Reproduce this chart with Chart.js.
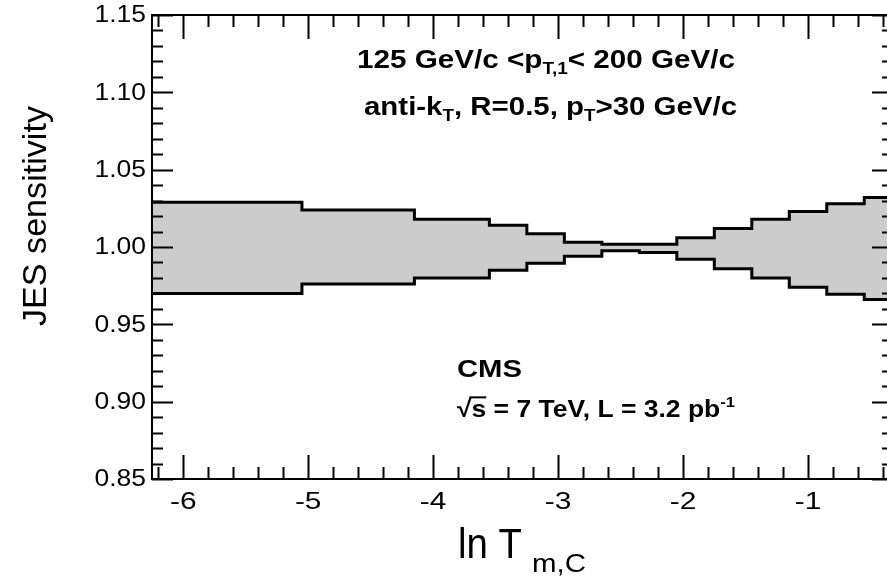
<!DOCTYPE html>
<html lang="en">
<head>
<meta charset="UTF-8">
<title>JES sensitivity vs ln T_m,C</title>
<style>
  html, body { margin: 0; padding: 0; background: #fff; overflow: hidden; }
  #wrap { width: 887px; height: 587px; overflow: hidden; }
  canvas { display: block; }
</style>
</head>
<body>
<div id="wrap"><canvas id="jesChart" width="900" height="587"></canvas></div>

<script src="https://cdn.jsdelivr.net/npm/chart.js@4"></script>
<script>
// bin edges in ln T_m,C (last bin runs past the right edge of the picture)
var binEdges = [-6.25, -5.05, -4.15, -3.55, -3.25, -2.95, -2.65, -2.35, -2.05, -1.75, -1.45, -1.15, -0.85, -0.55, -0.25];
// upper / lower edge of the JES band, one value per bin
var upperBand = [1.029, 1.024, 1.018, 1.014, 1.0085, 1.003, 1.0017, 1.0017, 1.006, 1.012, 1.018, 1.023, 1.028, 1.032];
var lowerBand = [0.970, 0.976, 0.980, 0.985, 0.9895, 0.994, 0.9975, 0.9965, 0.992, 0.986, 0.980, 0.974, 0.9695, 0.966];

var xTickValues = [-6, -5, -4, -3, -2, -1];
var xTickLabels = ['-6', '-5', '-4', '-3', '-2', '-1'];
var yTickValues = [0.85, 0.90, 0.95, 1.00, 1.05, 1.10, 1.15];
var yTickLabels = ['0.85', '0.90', '0.95', '1.00', '1.05', '1.10', '1.15'];

var FONT = '"Liberation Sans", Arial, Helvetica, sans-serif';

// histogram-style points: one per left edge + closing point at last edge
function stepPoints(vals) {
    var pts = [];
    for (var i = 0; i < vals.length; i++) pts.push({ x: binEdges[i], y: vals[i] });
    pts.push({ x: binEdges[vals.length], y: vals[vals.length - 1] });
    return pts;
}

// draws a list of text runs (sub/superscripts) squeezed to a target width
function drawRuns(ctx, runs, x, y, size, weight, targetW) {
    var total = 0;
    runs.forEach(function (r) {
        ctx.font = weight + ' ' + Math.round(size * (r.s || 1)) + 'px ' + FONT;
        r.w = ctx.measureText(r.t).width;
        total += r.w;
    });
    var sx = targetW ? targetW / total : 1;
    ctx.save();
    ctx.translate(x, y);
    ctx.scale(sx, 1);
    ctx.textAlign = 'left';
    ctx.textBaseline = 'alphabetic';
    ctx.fillStyle = '#000';
    var cx = 0;
    runs.forEach(function (r) {
        ctx.font = weight + ' ' + Math.round(size * (r.s || 1)) + 'px ' + FONT;
        ctx.fillText(r.t, cx, r.dy || 0);
        if (r.over) {
            ctx.fillRect(cx - 2, -size * 0.86, r.w + 2, 2);
        }
        cx += r.w;
    });
    ctx.restore();
}

var frameTicks = {
    id: 'frameTicks',
    afterDatasetsDraw: function (chart) {
        var ctx = chart.ctx, a = chart.chartArea;
        var xs = chart.scales.x, ys = chart.scales.y;
        ctx.save();
        ctx.strokeStyle = '#000';
        ctx.lineWidth = 2;
        ctx.strokeRect(a.left, a.top, a.right - a.left, a.bottom - a.top);

        ctx.beginPath();
        // x ticks, top and bottom, minor every 0.2
        for (var k = -32; k <= 0; k++) {
            var v = k * 0.2;
            if (v < xs.min || v > xs.max) continue;
            var px = Math.round(xs.getPixelForValue(v)) + 0.5;
            var len = (k % 5 === 0) ? 24 : 12;
            ctx.moveTo(px, a.bottom); ctx.lineTo(px, a.bottom - len);
            ctx.moveTo(px, a.top); ctx.lineTo(px, a.top + len);
        }
        // y ticks, left and right, minor every 0.01
        for (var j = 85; j <= 115; j++) {
            var py = Math.round(ys.getPixelForValue(j / 100)) + 0.5;
            var l2 = (j % 5 === 0) ? 21 : 11;
            ctx.moveTo(a.left, py); ctx.lineTo(a.left + l2, py);
            ctx.moveTo(a.right, py); ctx.lineTo(a.right - l2, py);
        }
        ctx.stroke();

        // tick labels
        ctx.fillStyle = '#000';
        ctx.font = '23px ' + FONT;
        ctx.textBaseline = 'middle';
        ctx.textAlign = 'right';
        yTickValues.forEach(function (v, i) {
            ctx.save();
            ctx.translate(146, ys.getPixelForValue(v) + 1);
            ctx.scale(1.15, 1);
            ctx.fillText(yTickLabels[i], 0, 0);
            ctx.restore();
        });
        ctx.textAlign = 'center';
        ctx.textBaseline = 'alphabetic';
        xTickValues.forEach(function (v, i) {
            ctx.save();
            ctx.translate(xs.getPixelForValue(v), 509);
            ctx.scale(1.3, 1);
            ctx.fillText(xTickLabels[i], 0, 0);
            ctx.restore();
        });

        // axis titles
        drawRuns(ctx, [{ t: 'ln T' }], 458, 558, 42, 'normal', 64);
        drawRuns(ctx, [{ t: 'm,C' }], 532, 572, 26, 'normal', 54);

        ctx.save();
        ctx.translate(46, 216);
        ctx.rotate(-Math.PI / 2);
        ctx.font = '34px ' + FONT;
        var tw = ctx.measureText('JES sensitivity').width;
        ctx.scale(220 / tw, 1);
        ctx.textAlign = 'center';
        ctx.fillText('JES sensitivity', 0, 0);
        ctx.restore();

        // annotations
        drawRuns(ctx, [{ t: '125 GeV/c <p' }, { t: 'T,1', s: 0.62, dy: 6 }, { t: '< 200 GeV/c' }], 357, 68, 25, 'bold', 378);
        drawRuns(ctx, [{ t: 'anti-k' }, { t: 'T', s: 0.62, dy: 6 }, { t: ', R=0.5, p' }, { t: 'T', s: 0.62, dy: 6 }, { t: '>30 GeV/c' }], 364, 115, 25, 'bold', 373);
        drawRuns(ctx, [{ t: 'CMS' }], 457, 377, 24, 'bold', 65);
        drawRuns(ctx, [{ t: '\u221A' }, { t: 's', over: true }, { t: ' = 7 TeV, L = 3.2 pb' }, { t: '-1', s: 0.62, dy: -10 }], 457, 417, 24, 'bold', 278);

        ctx.restore();
    }
};

var chart = new Chart(document.getElementById('jesChart'), {
    type: 'line',
    data: {
        datasets: [
            {
                label: 'upper',
                data: stepPoints(upperBand),
                stepped: 'before',
                borderColor: '#000',
                borderWidth: 3,
                pointRadius: 0,
                fill: '+1',
                backgroundColor: '#cccccc'
            },
            {
                label: 'lower',
                data: stepPoints(lowerBand),
                stepped: 'before',
                borderColor: '#000',
                borderWidth: 3,
                pointRadius: 0,
                fill: false
            }
        ]
    },
    options: {
        responsive: false,
        animation: false,
        devicePixelRatio: 1,
        layout: { padding: { left: 152, top: 15, right: 7, bottom: 108 } },
        plugins: {
            legend: { display: false },
            tooltip: { enabled: false },
            filler: { drawTime: 'beforeDatasetsDraw' }
        },
        scales: {
            x: { type: 'linear', min: -6.25, max: -0.32, display: false },
            y: { type: 'linear', min: 0.85, max: 1.15, display: false }
        }
    },
    plugins: [frameTicks]
});
</script>
</body>
</html>
